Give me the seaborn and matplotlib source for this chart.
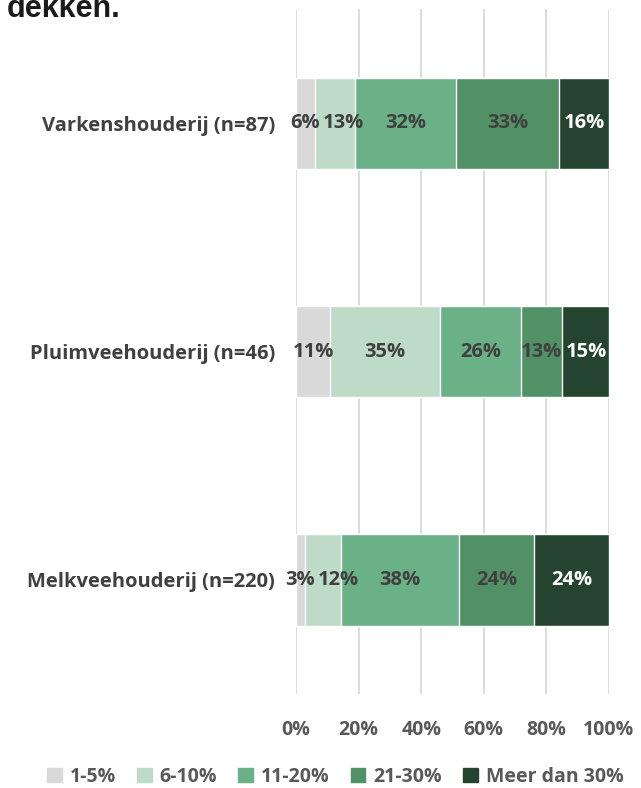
import numpy as np
import pandas as pd
import matplotlib
matplotlib.use("Agg")
import matplotlib.pyplot as plt
import seaborn as sns

sectoren = ["Varkenshouderij (n=87)", "Pluimveehouderij (n=46)", "Melkveehouderij (n=220)"]
klassen = ["1-5%", "6-10%", "11-20%", "21-30%", "Meer dan 30%"]
varkens = [6, 13, 32, 33, 16]
pluimvee = [11, 35, 26, 13, 15]
melkvee = [2.8, 11.7, 37.6, 23.9, 24.0]
kleuren = ["#D9D9D9", "#BEDBC8", "#6AB187", "#519165", "#254430"]
label_kleuren = ["#404040", "#404040", "#404040", "#404040", "#FFFFFF"]

sns.set_style("white")
plt.rcParams["font.family"] = ["Open Sans", "DejaVu Sans"]

df = pd.DataFrame([varkens, pluimvee, melkvee], columns=klassen)
df["sector"] = sectoren
cum = df[klassen].cumsum(axis=1)

fig = plt.figure(figsize=(6.41, 7.88), dpi=100)
ax = fig.add_axes([296 / 641, 1 - 694 / 788, 313 / 641, 685 / 788])

# stacked via cumulative bars, widest first
for i in range(len(klassen) - 1, -1, -1):
    sns.barplot(x=cum[klassen[i]], y=df["sector"], color=kleuren[i], width=0.4,
                orient="h", ax=ax, saturation=1, zorder=2)

rijen = []
for r in range(len(df)):
    rij = []
    for i, k in enumerate(klassen):
        v = df.loc[r, k]
        mid = cum.loc[r, k] - v / 2
        t = ax.text(mid, r, f"{v:.0f}%", ha="center", va="center", fontsize=14.5,
                    fontweight="bold", color=label_kleuren[i], zorder=3)
        rij.append(t)
    rijen.append(rij)

ax.set_xlim(0, 100)
ax.set_ylim(2.5, -0.5)
ax.set_xticks(range(0, 101, 20))
ax.set_xticklabels([f"{t}%" for t in range(0, 101, 20)])
ax.xaxis.grid(True, color="#D9D9D9", linewidth=1.3, zorder=0)
ax.set_axisbelow(True)
ax.set_xlabel("")
ax.set_ylabel("")
sns.despine(ax=ax, left=True, bottom=True)
ax.tick_params(axis="x", length=0, pad=19, labelsize=14, labelcolor="#595959")
ax.tick_params(axis="y", length=0, pad=15, labelsize=14.5, labelcolor="#404040")
for t in ax.get_xticklabels() + ax.get_yticklabels():
    t.set_fontweight("bold")

# nudge small labels to the right so they do not collide (like Excel did)
fig.canvas.draw()
rend = fig.canvas.get_renderer()
px = 313 / 100  # pixels per percent
for rij in rijen:
    for a, b in zip(rij[:-1], rij[1:]):
        ea = a.get_window_extent(rend)
        eb = b.get_window_extent(rend)
        overlap = ea.x1 + 3 - eb.x0
        if overlap > 0:
            x, y = b.get_position()
            b.set_position((x + overlap / px, y))

handles = [plt.Rectangle((0, 0), 1, 1, color=c) for c in kleuren]
fig.legend(handles, klassen, loc="center", bbox_to_anchor=(0.523, 1 - 777 / 788),
           ncol=5, frameon=False, handlelength=0.75, handleheight=0.75,
           handletextpad=0.4, columnspacing=1.1,
           prop={"family": ["Open Sans", "DejaVu Sans"], "weight": "bold", "size": 14},
           labelcolor="#595959")

fig.text(7 / 641, 1 - 17 / 788, "dekken.", family=["Liberation Sans", "DejaVu Sans"],
         fontsize=22, fontweight="bold", color="#1a1a1a", va="baseline", ha="left")

fig.savefig("out.png", dpi=100)
